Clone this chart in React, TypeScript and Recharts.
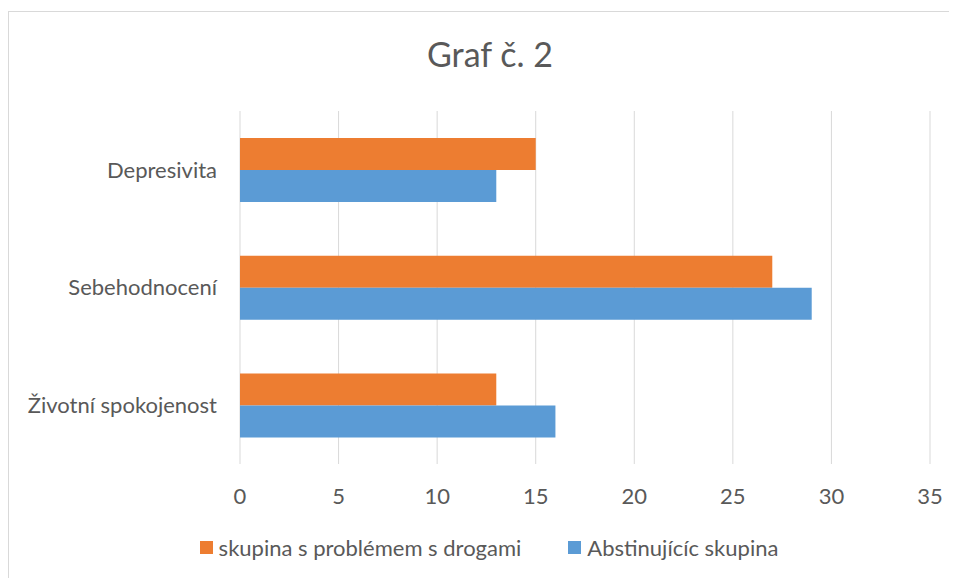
import { BarChart, Bar, XAxis, YAxis, CartesianGrid, Legend } from "recharts";

const categories = ["Depresivita", "Sebehodnocení", "Životní spokojenost"];
const drugGroup = [15, 27, 13];
const abstinentGroup = [13, 29, 16];
const xTicks = [0, 5, 10, 15, 20, 25, 30, 35];

const seriesNames = {
  drug: "skupina s problémem s drogami",
  abst: "Abstinujícíc skupina",
};
const seriesColors = { drug: "#ED7D31", abst: "#5B9BD5" };
const legendOrder: ("drug" | "abst")[] = ["drug", "abst"];

const data = categories.map((name, i) => ({
  name,
  drug: drugGroup[i],
  abst: abstinentGroup[i],
}));

const textColor = "#595959";
const font = "Lato, 'Open Sans', sans-serif";

function LegendContent() {
  return (
    <div style={{ display: "flex", justifyContent: "center", gap: 47, fontFamily: font, fontSize: 22, color: textColor }}>
      {legendOrder.map((k) => (
        <div key={k} style={{ display: "flex", alignItems: "center" }}>
          <span style={{ width: 13, height: 13, background: seriesColors[k], display: "inline-block", marginRight: 6 }} />
          <span>{seriesNames[k]}</span>
        </div>
      ))}
    </div>
  );
}

export default function App() {
  return (
    <div style={{ width: 949, height: 567, overflow: "hidden", marginTop: 3 }}>
      <div
        style={{
          position: "relative",
          width: 960,
          height: 580,
          borderLeft: "1px solid #d9d9d9",
          borderTop: "1px solid #d9d9d9",
          background: "#fff",
        }}
      >
        <div
          style={{
            position: "absolute",
            left: 0,
            top: 21,
            width: 962,
            textAlign: "center",
            fontFamily: font,
            fontSize: 34,
            color: textColor,
          }}
        >
          Graf č. 2
        </div>
        <BarChart
          width={948}
          height={567}
          data={data}
          layout="vertical"
          margin={{ top: 99, right: 27, bottom: 48, left: 0 }}
          barCategoryGap="23%"
          barGap={0}
        >
          <CartesianGrid horizontal={false} stroke="#d9d9d9" />
          <XAxis
            type="number"
            domain={[0, 35]}
            ticks={xTicks}
            axisLine={false}
            tickLine={false}
            tickSize={0}
            tickMargin={24}
            height={40}
            tick={{ fill: textColor, fontSize: 22, fontFamily: font }}
          />
          <YAxis
            type="category"
            dataKey="name"
            width={231}
            axisLine={false}
            tickLine={false}
            tickSize={0}
            tickMargin={23}
            tick={{ fill: textColor, fontSize: 22, fontFamily: font }}
          />
          <Legend
            content={<LegendContent />}
            wrapperStyle={{ position: "absolute", top: 522, left: 6, width: 948 }}
          />
          <Bar dataKey="drug" name={seriesNames.drug} fill={seriesColors.drug} isAnimationActive={false} />
          <Bar dataKey="abst" name={seriesNames.abst} fill={seriesColors.abst} isAnimationActive={false} />
        </BarChart>
      </div>
    </div>
  );
}
